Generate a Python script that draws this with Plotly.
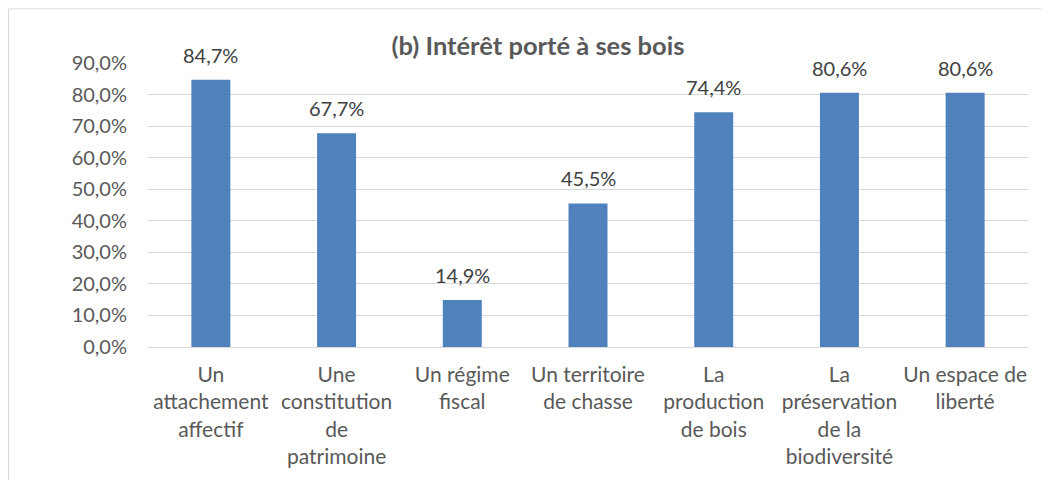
import plotly.graph_objects as go

categories = [
    "Un<br>attachement<br>affectif",
    "Une<br>constitution<br>de<br>patrimoine",
    "Un régime<br>fiscal",
    "Un territoire<br>de chasse",
    "La<br>production<br>de bois",
    "La<br>préservation<br>de la<br>biodiversité",
    "Un espace de<br>liberté",
]
values = [0.847, 0.677, 0.149, 0.455, 0.744, 0.806, 0.806]
y_ticks = [0, 0.1, 0.2, 0.3, 0.4, 0.5, 0.6, 0.7, 0.8, 0.9]

FONT = "Lato"
TXT = "#595959"
FS = 20

# page has an 8px body margin: figure coords = reference coords - 8
W, H = 1041, 472
L, R, T, B = 140, 1020, 55, 341

fig = go.Figure(go.Bar(
    x=categories, y=values,
    marker=dict(color="#4F81BD", line=dict(width=0)),
    cliponaxis=False,
    hoverinfo="x+y",
))

for c, v in zip(categories, values):
    fig.add_annotation(x=c, y=v, xref="x", yref="y",
                       text=f"{v*100:.1f}%".replace(".", ","),
                       showarrow=False, yanchor="middle", yshift=25,
                       font=dict(family=FONT, size=FS, color="#404040"))

pw, ph = R - L, B - T
fig.update_layout(
    width=W, height=H,
    margin=dict(l=L, r=W - R, t=T, b=H - B),
    paper_bgcolor="white", plot_bgcolor="white",
    separators=", ",
    bargap=0.69,
    showlegend=False,
    title=dict(text="<b>(b) Intérêt porté à ses bois</b>",
               x=(538 - 8 - L) / pw, xref="paper", xanchor="center",
               y=1 - 38 / H, yref="container", yanchor="middle",
               font=dict(family=FONT, size=25.5, color=TXT)),
    font=dict(family=FONT, color=TXT),
    xaxis=dict(showgrid=False, showline=False, ticks="",
               tickfont=dict(family=FONT, size=21, color=TXT),
               ticklabelstandoff=13),
    yaxis=dict(range=[0, 0.9], tickvals=y_ticks, tickformat=".1%",
               showgrid=True, gridcolor="#D9D9D9", gridwidth=1,
               zeroline=True, zerolinecolor="#D9D9D9", zerolinewidth=1,
               showline=False, ticks="",
               tickfont=dict(family=FONT, size=FS, color=TXT),
               ticklabelstandoff=20),
    shapes=[dict(type="rect", xref="paper", yref="paper",
                 x0=(0.5 - L) / pw, x1=(1040 - L) / pw,
                 y0=-0.6, y1=1 + (T - 0.5) / ph,
                 line=dict(color="#D9D9D9", width=1), layer="below")],
)

fig.write_html("out.html")
